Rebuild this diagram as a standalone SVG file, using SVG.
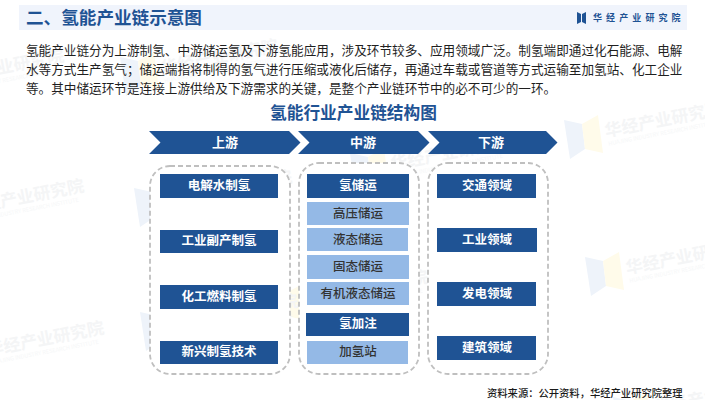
<svg xmlns="http://www.w3.org/2000/svg" width="705" height="400" viewBox="0 0 705 400">
<style>
text{font-family:"Noto Sans CJK SC","Noto Sans",sans-serif}
.dark{fill:#1f5394}
.light{fill:#94b9e6}
.lb{fill:#fff;font-size:12.5px;font-weight:700;text-anchor:middle}
.ld{fill:#333;font-size:12.5px;font-weight:500;text-anchor:middle}
.body{fill:#1f1f1f;font-size:12.63px}
.panel{fill:#fff;stroke:#bfbfbf;stroke-width:1.8;stroke-dasharray:5 3}
.wt{fill:#f4f5f6;font-size:17px;font-weight:700}
.ws{fill:#f6f7f8;font-size:5.6px}
</style>
<defs>
<g id="wm">
<polygon points="0,5 18,9 21,34 6,44" fill="#eef3fa"/>
<polygon points="18,9 34,0 39,38 21,34" fill="#fffbea"/>
<g transform="rotate(-11 42 22)">
<text class="wt" x="42" y="22">华经产业研究院</text>
<text class="ws" x="43" y="31">HUAJING INDUSTRY RESEARCH INSTITUTE</text>
</g>
</g>
</defs>
<rect width="705" height="400" fill="#fff"/>
<g id="watermarks">
<use href="#wm" x="564" y="115"/>
<use href="#wm" x="585" y="252"/>
<use href="#wm" x="120" y="52"/>
<use href="#wm" x="350" y="148"/>
<use href="#wm" x="134" y="183"/>
<use href="#wm" x="-94" y="62"/>
<use href="#wm" x="-74" y="192"/>
<use href="#wm" x="-54" y="334"/>
<use href="#wm" x="270" y="283"/>
<use href="#wm" x="140" y="307"/>
<use href="#wm" x="613" y="392"/>
</g>
<g id="header">
<rect x="19" y="5" width="668" height="25" fill="#f0f4fc"/>
<text x="26" y="24" fill="#1f5394" font-size="17.6" font-weight="700">二、氢能产业链示意图</text>
<path d="M577 12l4 2v8l-4 2zM586 12l-4 2v8l4 2z" fill="#1f5394"/>
<text x="593" y="21" fill="#1f5394" font-size="9" font-weight="700" letter-spacing="4.1">华经产业研究院</text>
</g>
<g id="intro">
<text class="body" x="26" y="55">氢能产业链分为上游制氢、中游储运氢及下游氢能应用，涉及环节较多、应用领域广泛。制氢端即通过化石能源、电解</text>
<text class="body" x="26" y="74">水等方式生产氢气；储运端指将制得的氢气进行压缩或液化后储存，再通过车载或管道等方式运输至加氢站、化工企业</text>
<text class="body" x="26" y="93">等。其中储运环节是连接上游供给及下游需求的关键，是整个产业链环节中的必不可少的一环。</text>
</g>
<text id="subtitle" x="353.500" y="119" fill="#1f5394" font-size="16.7" font-weight="700" text-anchor="middle">氢能行业产业链结构图</text>
<g id="stage-upstream">
<polygon class="dark" points="149,131 289,131 300.500,142.500 289,154 149,154 160.500,142.500"/>
<text class="lb" style="font-size:13px" x="225" y="147">上游</text>
</g>
<g id="stage-midstream">
<polygon class="dark" points="298,131 418,131 429.500,142.500 418,154 298,154 309.500,142.500"/>
<text class="lb" style="font-size:13px" x="363" y="147">中游</text>
</g>
<g id="stage-downstream">
<polygon class="dark" points="428,131 546,131 557.500,142.500 546,154 428,154 439.500,142.500"/>
<text class="lb" style="font-size:13px" x="491" y="147">下游</text>
</g>
<g id="panel-upstream"><rect class="panel" x="150" y="166" width="140" height="208" rx="20"/></g>
<g id="panel-midstream"><rect class="panel" x="299" y="163" width="120" height="211" rx="20"/></g>
<g id="panel-downstream"><rect class="panel" x="428" y="163" width="120" height="211" rx="20"/></g>
<g id="n-electrolysis"><rect class="dark" x="160" y="174" width="118" height="24"/><text class="lb" x="219" y="190">电解水制氢</text></g>
<g id="n-byproduct"><rect class="dark" x="160" y="230" width="118" height="23"/><text class="lb" x="219" y="245">工业副产制氢</text></g>
<g id="n-chemfuel"><rect class="dark" x="160" y="285" width="118" height="24"/><text class="lb" x="219" y="301">化工燃料制氢</text></g>
<g id="n-newtech"><rect class="dark" x="160" y="341" width="118" height="23"/><text class="lb" x="219" y="356">新兴制氢技术</text></g>
<g id="n-storage"><rect class="dark" x="307" y="174" width="102" height="24"/><text class="lb" x="358" y="190">氢储运</text></g>
<g id="n-highpressure"><rect class="light" x="307" y="202" width="102" height="23"/><text class="ld" x="358" y="218">高压储运</text></g>
<g id="n-liquid"><rect class="light" x="307" y="228" width="101" height="23"/><text class="ld" x="358" y="244">液态储运</text></g>
<g id="n-solid"><rect class="light" x="307" y="255" width="102" height="24"/><text class="ld" x="358" y="271">固态储运</text></g>
<g id="n-organic"><rect class="light" x="307" y="282" width="102" height="23"/><text class="ld" x="358" y="298">有机液态储运</text></g>
<g id="n-refuel"><rect class="dark" x="306" y="313" width="103" height="23"/><text class="lb" x="358" y="328">氢加注</text></g>
<g id="n-station"><rect class="light" x="307" y="341" width="101" height="23"/><text class="ld" x="358" y="356">加氢站</text></g>
<g id="n-transport"><rect class="dark" x="437" y="174" width="99" height="24"/><text class="lb" x="487" y="190">交通领域</text></g>
<g id="n-industry"><rect class="dark" x="437" y="228" width="100" height="24"/><text class="lb" x="487" y="244">工业领域</text></g>
<g id="n-power"><rect class="dark" x="437" y="282" width="99" height="24"/><text class="lb" x="487" y="298">发电领域</text></g>
<g id="n-building"><rect class="dark" x="437" y="336" width="99" height="24"/><text class="lb" x="487" y="352">建筑领域</text></g>
<text id="source" x="487" y="397" fill="#1a1a1a" font-size="10.3" font-weight="500">资料来源：公开资料，华经产业研究院整理</text>
</svg>
